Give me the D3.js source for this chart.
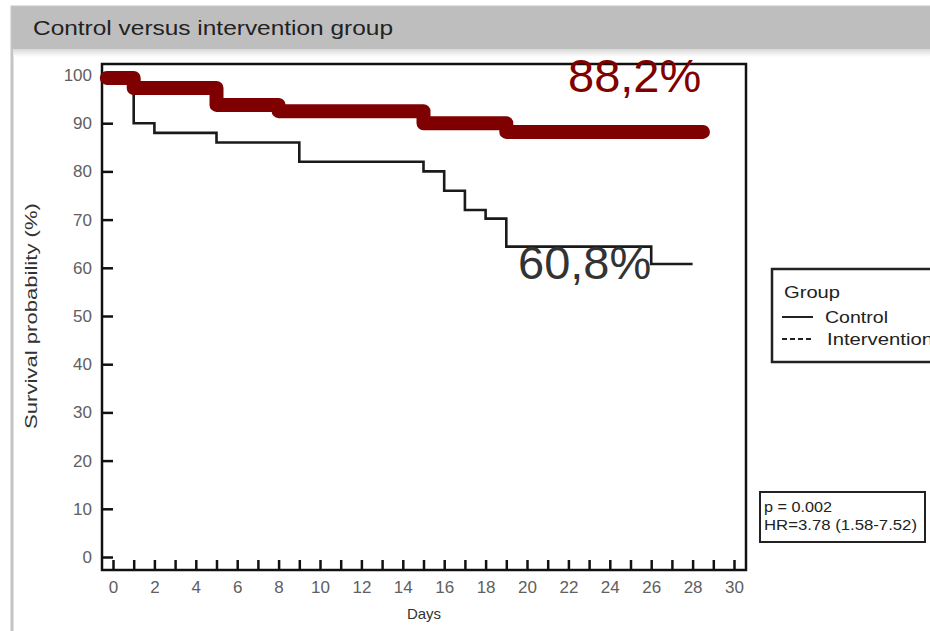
<!DOCTYPE html>
<html>
<head>
<meta charset="utf-8">
<script src="https://cdn.jsdelivr.net/npm/d3@7"></script>
<style>
  html, body { margin: 0; padding: 0; background: #fff; }
  svg { display: block; font-family: "Liberation Sans", Arial, Helvetica, sans-serif; }
</style>
</head>
<body>
<svg id="chart" width="930" height="631"></svg>
<script>
// Kaplan-Meier survival, control vs intervention (percent surviving by day)
const controlDays = [0, 1, 2, 5, 9, 15, 16, 17, 18, 19, 26, 28];
const controlSurv = [100, 90, 88, 86, 82, 80, 76, 72, 70.2, 64.4, 60.8, 60.8];
const interventionDays = [-0.3, 1, 5, 8, 15, 19, 28.5];
const interventionSurv = [99.4, 97.3, 93.8, 92.5, 90, 88.2, 88.2];
const xTicks = d3.range(0, 31, 1);
const yTicks = d3.range(0, 101, 10);
const legendItems = ["Control", "Intervention"];
const statLines = ["p = 0.002", "HR=3.78 (1.58-7.52)"];

const svg = d3.select("#chart");

// panel background and title strip
svg.append("rect").attr("x", 12).attr("y", 7).attr("width", 930).attr("height", 640)
  .attr("fill", "#fff").attr("stroke", "#c4c4c4").attr("stroke-width", 3);
const grad = svg.append("defs").append("linearGradient").attr("id", "fade")
  .attr("x1", 0).attr("y1", 0).attr("x2", 0).attr("y2", 1);
grad.append("stop").attr("offset", 0).attr("stop-color", "#d8d8d8");
grad.append("stop").attr("offset", 1).attr("stop-color", "#ffffff");
svg.append("rect").attr("x", 12).attr("y", 7).attr("width", 930).attr("height", 42).attr("fill", "#bebebe");
svg.append("rect").attr("x", 13.5).attr("y", 49).attr("width", 930).attr("height", 8).attr("fill", "url(#fade)");
svg.append("text").attr("x", 33).attr("y", 35)
  .attr("font-size", 21).attr("fill", "#222")
  .attr("textLength", 360).attr("lengthAdjust", "spacingAndGlyphs")
  .text("Control versus intervention group");

// scales
const x = d3.scaleLinear().domain([0, 30]).range([113, 734]);
const y = d3.scaleLinear().domain([0, 100]).range([557, 75]);

const frame = { left: 102, top: 64, right: 746, bottom: 570 };

// axes with inward ticks
const yAxis = svg.append("g").attr("transform", `translate(${frame.left},0)`)
  .call(d3.axisLeft(y).tickValues(yTicks).tickSizeInner(-11).tickSizeOuter(0).tickPadding(10));
const xAxis = svg.append("g").attr("transform", `translate(0,${frame.bottom})`)
  .call(d3.axisBottom(x).tickValues(xTicks).tickSizeInner(-10).tickSizeOuter(0).tickPadding(11)
    .tickFormat(d => d % 2 === 0 ? d : ""));
[xAxis, yAxis].forEach(g => {
  g.select(".domain").remove();
  g.selectAll(".tick line").attr("stroke", "#111").attr("stroke-width", 2.5);
  g.selectAll(".tick text").attr("font-size", 17).attr("fill", "#606060")
    .attr("font-family", "'Liberation Sans', Arial, sans-serif");
});

// plot frame
svg.append("rect").attr("x", frame.left).attr("y", frame.top)
  .attr("width", frame.right - frame.left).attr("height", frame.bottom - frame.top)
  .attr("fill", "none").attr("stroke", "#111").attr("stroke-width", 2.5);

// axis titles
svg.append("text").attr("transform", `translate(37,${(y(0) + y(100)) / 2}) rotate(-90)`)
  .attr("text-anchor", "middle").attr("font-size", 16.5).attr("fill", "#333")
  .attr("textLength", 226).attr("lengthAdjust", "spacingAndGlyphs")
  .text("Survival probability (%)");
svg.append("text").attr("x", (frame.left + frame.right) / 2).attr("y", 619)
  .attr("text-anchor", "middle").attr("font-size", 15).attr("fill", "#333")
  .text("Days");

// survival curves
const line = d3.line().x(d => x(d[0])).y(d => y(d[1])).curve(d3.curveStepAfter);
const controlData = controlDays.map((d, i) => [d, controlSurv[i]]);
const interventionData = interventionDays.map((d, i) => [d, interventionSurv[i]]);

svg.append("path").datum(controlData).attr("d", line)
  .attr("fill", "none").attr("stroke", "#1a1a1a").attr("stroke-width", 2.6);
svg.append("path").datum(interventionData).attr("d", line)
  .attr("fill", "none").attr("stroke", "#7f0000").attr("stroke-width", 14)
  .attr("stroke-linejoin", "round").attr("stroke-linecap", "round");

// end-of-follow-up values
const fmt = v => d3.format(".1f")(v).replace(".", ",") + "%";
svg.append("text").attr("x", 568).attr("y", 92)
  .attr("font-size", 47).attr("fill", "#800000")
  .text(fmt(interventionSurv[interventionSurv.length - 1]));
svg.append("text").attr("x", 518).attr("y", 279)
  .attr("font-size", 47).attr("fill", "#333")
  .text(fmt(controlSurv[controlSurv.length - 1]));

// legend
const lg = svg.append("g");
lg.append("rect").attr("x", 772).attr("y", 269).attr("width", 200).attr("height", 93)
  .attr("fill", "#fff").attr("stroke", "#222").attr("stroke-width", 2.5);
lg.append("text").attr("x", 784).attr("y", 298).attr("font-size", 17).attr("fill", "#222")
  .attr("textLength", 56).attr("lengthAdjust", "spacingAndGlyphs").text("Group");
legendItems.forEach((name, i) => {
  const yy = 317 + i * 22;
  lg.append("line").attr("x1", 782).attr("x2", 813).attr("y1", yy).attr("y2", yy)
    .attr("stroke", "#222").attr("stroke-width", 2)
    .attr("stroke-dasharray", i === 1 ? "5,3" : null);
  lg.append("text").attr("x", 825 + i * 2).attr("y", yy + 6).attr("font-size", 17).attr("fill", "#222")
    .attr("textLength", i === 0 ? 63 : 106).attr("lengthAdjust", "spacingAndGlyphs").text(name);
});

// statistics box
const sb = svg.append("g");
sb.append("rect").attr("x", 760).attr("y", 492).attr("width", 165).attr("height", 50)
  .attr("fill", "#fff").attr("stroke", "#222").attr("stroke-width", 2);
statLines.forEach((t, i) => {
  sb.append("text").attr("x", 764).attr("y", 512 + i * 18).attr("font-size", 14.5).attr("fill", "#222")
    .attr("textLength", i === 0 ? 68 : 153).attr("lengthAdjust", "spacingAndGlyphs").text(t);
});
</script>
</body>
</html>
